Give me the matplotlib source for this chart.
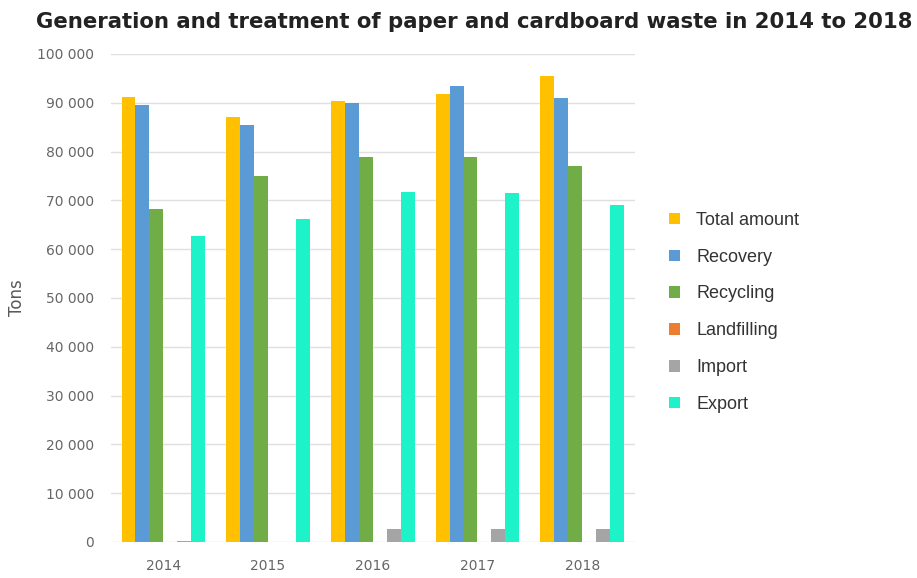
import numpy as np
import matplotlib.pyplot as plt
from matplotlib.ticker import FuncFormatter

years = ["2014", "2015", "2016", "2017", "2018"]
series_names = ["Total amount", "Recovery", "Recycling", "Landfilling", "Import", "Export"]
total_amount = [91200, 87000, 90400, 91800, 95400]
recovery = [89600, 85400, 89900, 93400, 91000]
recycling = [68200, 74900, 78800, 78800, 77000]
landfilling = [0, 0, 0, 0, 0]
imports = [300, 0, 2700, 2700, 2700]
exports = [62700, 66200, 71800, 71600, 69000]
colors = ["#FFC000", "#5B9BD5", "#70AD47", "#ED7D31", "#A5A5A5", "#1DF2C8"]

all_series = [total_amount, recovery, recycling, landfilling, imports, exports]

fig = plt.figure(figsize=(9.17, 5.78), dpi=100)
ax = fig.add_axes([0.121, 0.0623, 0.571, 0.8443])

x = np.arange(len(years))
width = 0.133
for i, (name, vals) in enumerate(zip(series_names, all_series)):
    offset = (i - 2.5) * width
    ax.bar(x + offset, vals, width, color=colors[i], label=name, zorder=3)

ax.set_xlim(-0.5, 4.5)
ax.set_ylim(0, 100000)
ax.set_yticks(np.arange(0, 100001, 10000))
ax.yaxis.set_major_formatter(FuncFormatter(lambda v, p: f"{int(v):,}".replace(",", " ")))
ax.set_xticks(x)
ax.set_xticklabels(years)
ax.grid(axis="y", color="#E0E0E0", linewidth=1, zorder=0)
for s in ax.spines.values():
    s.set_visible(False)
ax.tick_params(axis="both", length=0, labelsize=10, labelcolor="#666666")
ax.tick_params(axis="x", pad=12)
ax.tick_params(axis="y", pad=12)
ax.set_ylabel("Tons", fontsize=12, color="#595959", labelpad=8)

fig.text(0.517, 0.962, "Generation and treatment of paper and cardboard waste in 2014 to 2018",
         ha="center", va="center", fontsize=15.3, fontweight="bold", color="#222222")

leg = ax.legend(loc="upper left", bbox_to_anchor=(1.035, 0.71), frameon=False,
                prop={"family": "Liberation Sans", "size": 13},
                handlelength=0.6, handleheight=0.6, labelspacing=1.1,
                handletextpad=0.9)
for t in leg.get_texts():
    t.set_color("#333333")

fig.savefig("out.png", dpi=100)
